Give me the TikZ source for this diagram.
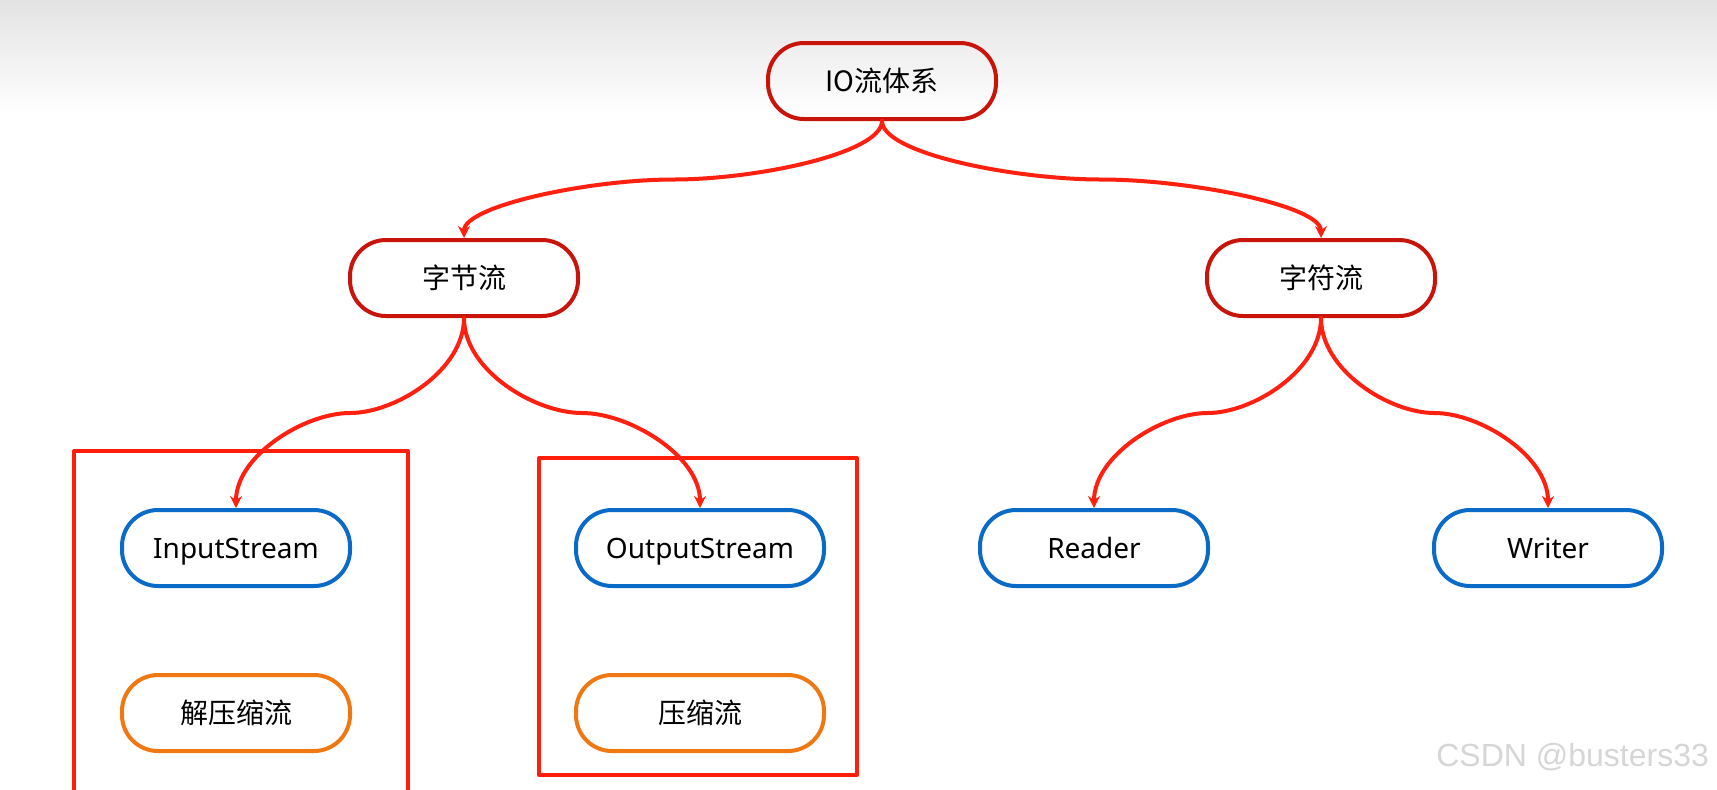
\documentclass[tikz,border=0pt]{standalone}
\usepackage{fontspec}
\setmainfont{Noto Sans}
\newfontfamily\cjk{Noto Sans CJK SC}
\newfontfamily\wmfont{Liberation Sans}
\usetikzlibrary{arrows.meta,calc}
\definecolor{linkred}{HTML}{FF2010}
\definecolor{rootred}{HTML}{C8140A}
\definecolor{streamblue}{HTML}{0A6AC8}
\definecolor{ziporange}{HTML}{F07812}
\definecolor{boxred}{HTML}{FF1E0A}
\begin{document}
\begin{tikzpicture}[x=0.5pt,y=-0.5pt,font=\fontsize{14}{16}\selectfont,line join=round,line cap=round,>={Stealth[length=6pt,width=6pt]},
	pill/.style={draw,rectangle,rounded corners=18pt,line width=2pt,minimum height=38pt,minimum width=114pt,inner sep=0pt,text height=10pt,text depth=0pt},
	link/.style={->,draw=linkred,line width=2pt}]
	\useasboundingbox (0,0) rectangle (1717,789);
	\shade[top color=gray!22,bottom color=white] (0,0) rectangle (1717,115);
	% groups
	\draw[boxred,line width=2pt] (74,451) rectangle (408,800);
	\draw[boxred,line width=2pt] (539,458) rectangle (857,775);
	% nodes
	\node[pill,draw=rootred] (io) at (882,81) {\cjk IO流体系};
	\node[pill,draw=rootred] (byte) at (464,278) {\cjk 字节流};
	\node[pill,draw=rootred] (char) at (1321,278) {\cjk 字符流};
	\node[pill,draw=streamblue] (in) at (236,548) {InputStream};
	\node[pill,draw=streamblue,minimum width=124pt] (out) at (700,548) {OutputStream};
	\node[pill,draw=streamblue] (rd) at (1094,548) {Reader};
	\node[pill,draw=streamblue] (wr) at (1548,548) {Writer};
	\node[pill,draw=ziporange] (unzip) at (236,713) {\cjk 解压缩流};
	\node[pill,draw=ziporange,minimum width=124pt] (zip) at (700,713) {\cjk 压缩流};
	% links
	\foreach \a/\b in {io/byte,io/char,byte/in,byte/out,char/rd,char/wr}{
		\coordinate (m) at ($(\a.south)!.5!(\b.north)$);
		\draw[link] (\a.south) .. controls ($(\a.south)!.55!(\a.south|-m)$) and ($(m)!.4!(\a.south|-m)$) .. (m)
			.. controls ($(m)!.4!(\b.north|-m)$) and ($(\b.north)!.55!(\b.north|-m)$) .. (\b.north);
	}
	\node[anchor=east,text=gray!32,font=\wmfont\fontsize{16}{18}\selectfont] (mark) at (1716,757) {CSDN @busters33};
\end{tikzpicture}
\end{document}
